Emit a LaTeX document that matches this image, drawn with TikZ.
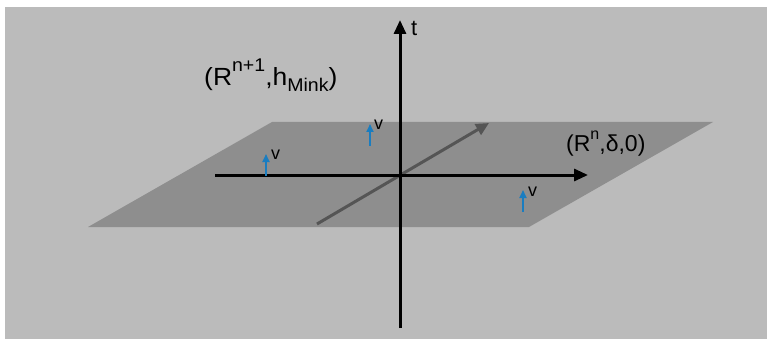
\documentclass[tikz,border=0pt]{standalone}
\usepackage{fontspec}
\setmainfont{Liberation Sans}
\usetikzlibrary{arrows.meta}
\definecolor{bggray}{HTML}{BBBBBB}
\definecolor{planegray}{HTML}{8E8E8E}
\definecolor{diaggray}{HTML}{555555}
\definecolor{vblue}{HTML}{1A7DC0}
\newcommand\mysup[3]{\raisebox{#1}{\fontsize{#2}{#2}\selectfont #3}}
\newcommand\mysub[3]{\raisebox{-#1}{\fontsize{#2}{#2}\selectfont #3}}
\begin{document}
\begin{tikzpicture}[x=1pt,y=-1pt,
  axis/.style={line width=3pt,-{Triangle[length=14pt,width=12pt]}},
  diagarrow/.style={diaggray,line width=3pt,-{Triangle[length=13pt,width=12pt]}},
  varrow/.style={vblue,line width=1.8pt,-{Triangle[length=8pt,width=7pt]}},
  vlabel/.style={font=\fontsize{18}{18}\selectfont,inner sep=0pt,anchor=base west},
  biglabel/.style={font=\fontsize{23}{26}\selectfont,inner sep=0pt,anchor=base west}]
\useasboundingbox (0,0) rectangle (767,339);
\fill[bggray] (5,7) rectangle (767,339);
\fill[planegray] (272,122) -- (713,122) -- (529,227) -- (88,227) -- cycle;
% axes
\coordinate (tbot) at (400,328);
\coordinate (ttop) at (400,20);
\coordinate (xl) at (215,175);
\coordinate (xr) at (588,175);
\coordinate (dl) at (317,224);
\coordinate (dr) at (489,123);
\draw[diagarrow] (dl) -- (dr);
\draw[axis] (tbot) -- (ttop);
\draw[axis] (xl) -- (xr);
\node[font=\fontsize{22}{22}\selectfont,inner sep=0pt,anchor=base west] (t) at (411,36) {t};
% v arrows
\coordinate (v1a) at (266,176);
\coordinate (v1b) at (266,154);
\coordinate (v2a) at (370,146);
\coordinate (v2b) at (370,124);
\coordinate (v3a) at (523,212);
\coordinate (v3b) at (523,190);
\draw[varrow] (v1a) -- (v1b);
\draw[varrow] (v2a) -- (v2b);
\draw[varrow] (v3a) -- (v3b);
\node[vlabel] (lv1) at (271,160) {v};
\node[vlabel] (lv2) at (374,130) {v};
\node[vlabel] (lv3) at (528,196) {v};
% labels
\node[biglabel] (mink) at (204,86) {\scalebox{1.15}[1.08]{(R\mysup{13pt}{17}{n+1},h\mysub{5pt}{17}{Mink})}};
\node[biglabel] (flat) at (566,151) {(R\mysup{12pt}{16}{n},δ,0)};
\end{tikzpicture}
\end{document}
